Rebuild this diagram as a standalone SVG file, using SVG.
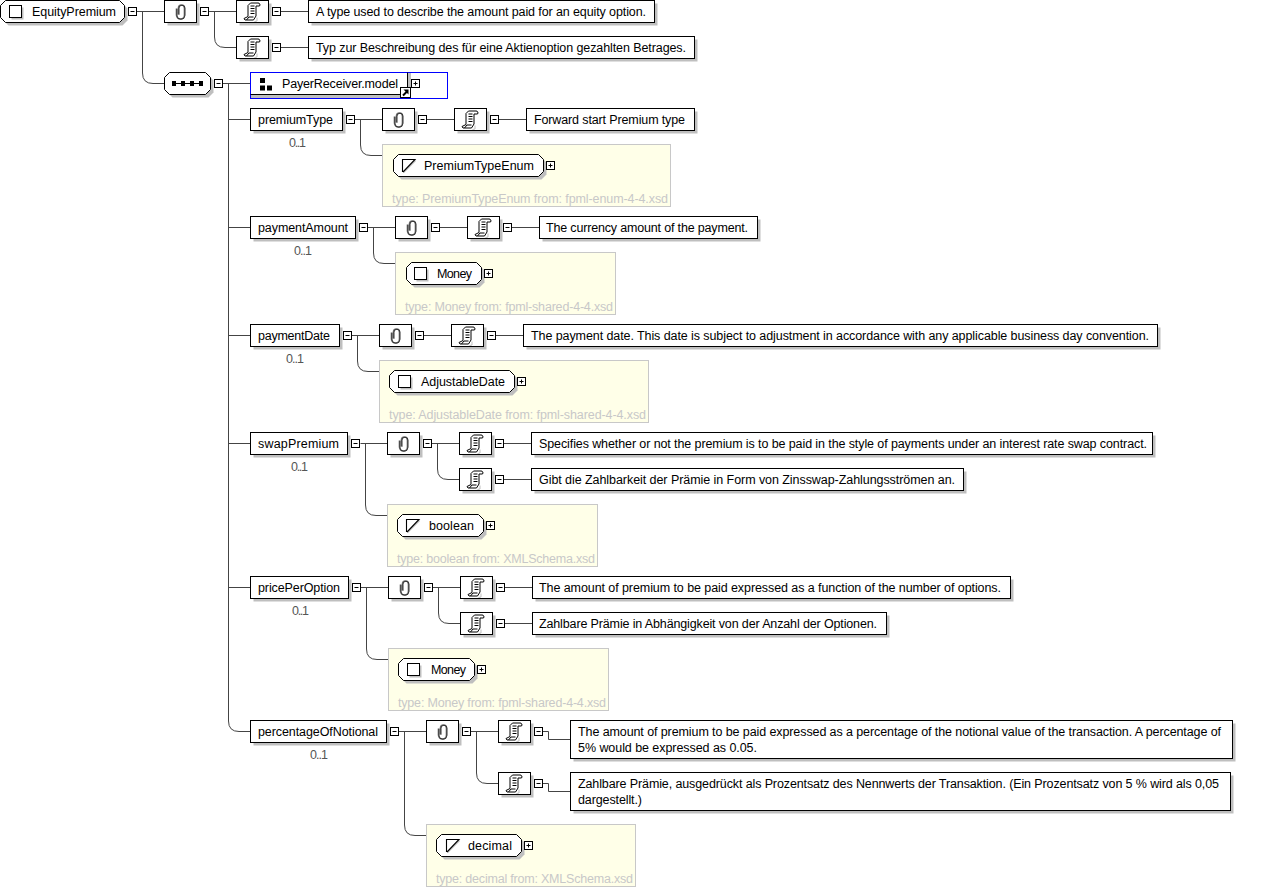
<svg xmlns="http://www.w3.org/2000/svg" width="1273" height="888" viewBox="0 0 1273 888">
<style>
text{font-family:"Liberation Sans",Arial,sans-serif;font-size:12.5px;fill:#000}
.occ{fill:#555}
.ty{fill:#c8c8c8}
.b{fill:#fff;stroke:#000;stroke-width:1}
.sh{fill:#bfbfbf;stroke:none}
.ct{fill:#ffffe8;stroke:#c8c8c8;stroke-width:1}
.ln{fill:none;stroke:#444;stroke-width:1}
</style>
<defs>
<g id="minus"><rect x="-4" y="-4" width="8" height="8" fill="#fff" stroke="#000"/><path d="M-2 0H2" stroke="#000"/></g>
<g id="plus"><rect x="-4" y="-4" width="8" height="8" fill="#fff" stroke="#000"/><path d="M-2 0H2M0-2V2" stroke="#000"/></g>
<g id="clip"><rect class="sh" x="3" y="-8" width="32" height="22"/><rect class="b" x="0" y="-11" width="32" height="22"/>
<path d="M12-3V3.500a4 4 0 0 0 8 0V-3.500a3 3 0 0 0-6 0V3" fill="none" stroke="#666" stroke-width="1.600"/>
<path d="M12-3V3.500a4 4 0 0 0 8 0V-3.500a3 3 0 0 0-6 0V3" fill="none" stroke="#111" stroke-width=".6" transform="translate(.5 .3)"/></g>
<g id="doc"><rect class="sh" x="3" y="-8" width="32" height="22"/><rect class="b" x="0" y="-11" width="32" height="22"/>
<path d="M14-8.500H21.500a1.800 1.800 0 0 1 1.500 3H19.500V4.500L17 8.500H8.500L7.500 7 11.500 5V-6Z" fill="#fff" stroke="#000"/>
<path d="M10 8.500L12.500 5.500H17M14-5.500H18M14-3H18M14-.5H18M14 2H18" fill="none" stroke="#000"/><path d="M20.500 6V9.500L18 10" fill="none" stroke="#bfbfbf"/></g>
<g id="ty"><path d="M2 14L14 2" fill="none" stroke="#bfbfbf" stroke-width="1.500"/><path d="M1 13.500V1H13.500L1.500 13.500" fill="#fff" stroke="#000" stroke-width="1.100"/></g>
<g id="cx"><rect class="sh" x="2" y="2" width="12" height="12"/><rect x="0" y="0" width="12" height="12" fill="#fff" stroke="#000"/></g>
</defs>
<g id="connectors" class="ln">
<path d="M136.500 11.500H164.500M142.500 11.500V73Q142.500 83.500 153 83.500H164.500"/>
<path d="M208.500 11.500H236.500M214.500 11.500V37Q214.500 47.500 225 47.500H236.500"/>
<path d="M280.500 11.500H308.500M280.500 47.500H308.500"/>
<path d="M222.500 83.500H250.500M228.500 83.500V721Q228.500 731.500 239 731.500H250.500M228.500 119.500H250.500M228.500 227.500H250.500M228.500 335.500H250.500M228.500 443.500H250.500M228.500 587.500H250.500"/>
<path d="M354.500 119.500H382.500M360.500 119.500V145Q360.500 155.500 371 155.500H382.500M426.500 119.500H454.500M498.500 119.500H526.500"/>
<path d="M367.500 227.500H395.500M373.500 227.500V253Q373.500 263.500 384 263.500H395.500M439.500 227.500H467.500M511.500 227.500H539.500"/>
<path d="M351.500 335.500H379.500M357.500 335.500V361Q357.500 371.500 368 371.500H379.500M423.500 335.500H451.500M495.500 335.500H523.500"/>
<path d="M360.500 443.500H387.500M365.500 443.500V505Q365.500 515.500 376 515.500H387.500M431.500 443.500H459.500M437.500 443.500V469Q437.500 479.500 448 479.500H459.500M503.500 443.500H531.500M503.500 479.500H531.500"/>
<path d="M360.500 587.500H388.500M366.500 587.500V649Q366.500 659.500 377 659.500H388.500M432.500 587.500H460.500M438.500 587.500V613Q438.500 623.500 449 623.500H460.500M504.500 587.500H532.500M504.500 623.500H532.500"/>
<path d="M398.500 731.500H426.500M404.500 731.500V825Q404.500 835.500 415 835.500H426.500M470.500 731.500H498.500M476.500 731.500V773Q476.500 783.500 487 783.500H498.500M542.500 731.500H548.500V739.500H570.500M542.500 783.500H548.500V791.500H570.500"/>
</g>
<g id="EquityPremium">
<path class="sh" transform="translate(3 3)" d="M5.500 .5H119.500L124.500 5.500V17.500L119.500 22.500H5.500L.5 17.500V5.500Z"/>
<path class="b" d="M5.500 .5H119.500L124.500 5.500V17.500L119.500 22.500H5.500L.5 17.500V5.500Z"/>
<use href="#cx" x="9.500" y="5.500"/>
<text x="32" y="16" textLength="84">EquityPremium</text>
<use href="#minus" x="132.500" y="11.500"/>
</g>
<g id="annotation-root">
<use href="#clip" x="164.500" y="11.500"/><use href="#minus" x="204.500" y="11.500"/>
<use href="#doc" x="236.500" y="11.500"/><use href="#minus" x="276.500" y="11.500"/>
<rect class="sh" x="311.500" y="3.500" width="346" height="22"/><rect class="b" x="308.500" y=".5" width="346" height="22"/>
<text x="316" y="16" textLength="330">A type used to describe the amount paid for an equity option.</text>
<use href="#doc" x="236.500" y="47.500"/><use href="#minus" x="276.500" y="47.500"/>
<rect class="sh" x="311.500" y="39.500" width="386" height="22"/><rect class="b" x="308.500" y="36.500" width="386" height="22"/>
<text x="316" y="52" textLength="370">Typ zur Beschreibung des für eine Aktienoption gezahlten Betrages.</text>
</g>
<g id="sequence">
<path class="sh" transform="translate(3 3)" d="M169.500 72.500H205.500L210.500 77.500V89.500L205.500 94.500H169.500L164.500 89.500V77.500Z"/>
<path class="b" d="M169.500 72.500H205.500L210.500 77.500V89.500L205.500 94.500H169.500L164.500 89.500V77.500Z"/>
<path d="M172 83.500H203" stroke="#000"/>
<path d="M172 81h4v5h-4zM181 81h4v5h-4zM190 81h4v5h-4zM199 81h4v5h-4z"/>
<use href="#minus" x="218.500" y="83.500"/>
</g>
<g id="PayerReceiver.model">
<rect x="250.500" y="72.500" width="197" height="26" fill="#fff" stroke="#00f"/>
<rect class="sh" x="251" y="95" width="159" height="3"/><rect class="sh" x="408" y="73" width="3" height="24"/>
<path d="M250.500 94.500H407.500V72.500" fill="none" stroke="#000"/>
<path d="M260 78h5v5h-5zM260 85.500h5v5h-5zM267 85.500h5v5h-5z"/>
<text x="282" y="88" textLength="116">PayerReceiver.model</text>
<rect x="400.500" y="87.500" width="10" height="10" fill="#fff" stroke="#000"/>
<path d="M403 95.500L407 91.500" stroke="#000" stroke-width="2"/><path d="M403.500 89.500H408.500V94.500Z"/>
<use href="#plus" x="415.500" y="83.500"/>
</g>
<g id="premiumType">
<rect class="sh" x="253.500" y="111.500" width="92" height="22"/><rect class="b" x="250.500" y="108.500" width="92" height="22"/>
<text x="258" y="124" textLength="75">premiumType</text><text class="occ" x="289" y="147" textLength="17">0..1</text>
<use href="#minus" x="350.500" y="119.500"/><use href="#clip" x="382.500" y="119.500"/><use href="#minus" x="422.500" y="119.500"/><use href="#doc" x="454.500" y="119.500"/><use href="#minus" x="494.500" y="119.500"/>
<rect class="sh" x="529.500" y="111.500" width="168" height="22"/><rect class="b" x="526.500" y="108.500" width="168" height="22"/>
<text x="534" y="124" textLength="151">Forward start Premium type</text>
<rect class="ct" x="382.500" y="144.500" width="288" height="62"/>
<path class="sh" transform="translate(3 3)" d="M398.500 154.500H538.500L543.500 159.500V171.500L538.500 176.500H398.500L393.500 171.500V159.500Z"/>
<path class="b" d="M398.500 154.500H538.500L543.500 159.500V171.500L538.500 176.500H398.500L393.500 171.500V159.500Z"/>
<use href="#ty" x="401.500" y="158.500"/>
<text x="424" y="170" textLength="110">PremiumTypeEnum</text>
<use href="#plus" x="550.500" y="165.500"/>
<text class="ty" x="392" y="203" textLength="276">type: PremiumTypeEnum from: fpml-enum-4-4.xsd</text>
</g>
<g id="paymentAmount">
<rect class="sh" x="253.500" y="219.500" width="105" height="22"/><rect class="b" x="250.500" y="216.500" width="105" height="22"/>
<text x="258" y="232" textLength="90">paymentAmount</text><text class="occ" x="294" y="255" textLength="18">0..1</text>
<use href="#minus" x="363.500" y="227.500"/><use href="#clip" x="395.500" y="227.500"/><use href="#minus" x="435.500" y="227.500"/><use href="#doc" x="467.500" y="227.500"/><use href="#minus" x="507.500" y="227.500"/>
<rect class="sh" x="542.500" y="219.500" width="218" height="22"/><rect class="b" x="539.500" y="216.500" width="218" height="22"/>
<text x="546" y="232" textLength="202">The currency amount of the payment.</text>
<rect class="ct" x="395.500" y="252.500" width="220" height="62"/>
<path class="sh" transform="translate(3 3)" d="M411.500 262.500H476.500L481.500 267.500V279.500L476.500 284.500H411.500L406.500 279.500V267.500Z"/>
<path class="b" d="M411.500 262.500H476.500L481.500 267.500V279.500L476.500 284.500H411.500L406.500 279.500V267.500Z"/>
<use href="#cx" x="414.500" y="267.500"/>
<text x="437" y="278" textLength="35">Money</text>
<use href="#plus" x="488.500" y="273.500"/>
<text class="ty" x="405" y="311" textLength="208">type: Money from: fpml-shared-4-4.xsd</text>
</g>
<g id="paymentDate">
<rect class="sh" x="253.500" y="327.500" width="89" height="22"/><rect class="b" x="250.500" y="324.500" width="89" height="22"/>
<text x="258" y="340" textLength="72">paymentDate</text><text class="occ" x="286" y="363" textLength="18">0..1</text>
<use href="#minus" x="347.500" y="335.500"/><use href="#clip" x="379.500" y="335.500"/><use href="#minus" x="419.500" y="335.500"/><use href="#doc" x="451.500" y="335.500"/><use href="#minus" x="491.500" y="335.500"/>
<rect class="sh" x="526.500" y="327.500" width="634" height="22"/><rect class="b" x="523.500" y="324.500" width="634" height="22"/>
<text x="531" y="340" textLength="618">The payment date. This date is subject to adjustment in accordance with any applicable business day convention.</text>
<rect class="ct" x="379.500" y="360.500" width="269" height="62"/>
<path class="sh" transform="translate(3 3)" d="M394.500 370.500H509.500L514.500 375.500V387.500L509.500 392.500H394.500L389.500 387.500V375.500Z"/>
<path class="b" d="M394.500 370.500H509.500L514.500 375.500V387.500L509.500 392.500H394.500L389.500 387.500V375.500Z"/>
<use href="#cx" x="398.500" y="375.500"/>
<text x="421" y="386" textLength="84">AdjustableDate</text>
<use href="#plus" x="521.500" y="381.500"/>
<text class="ty" x="389" y="419" textLength="257">type: AdjustableDate from: fpml-shared-4-4.xsd</text>
</g>
<g id="swapPremium">
<rect class="sh" x="253.500" y="435.500" width="97" height="22"/><rect class="b" x="250.500" y="432.500" width="97" height="22"/>
<text x="258" y="448" textLength="81">swapPremium</text><text class="occ" x="291" y="471" textLength="17">0..1</text>
<use href="#minus" x="355.500" y="443.500"/><use href="#clip" x="387.500" y="443.500"/><use href="#minus" x="427.500" y="443.500"/><use href="#doc" x="459.500" y="443.500"/><use href="#minus" x="499.500" y="443.500"/>
<rect class="sh" x="534.500" y="435.500" width="621" height="22"/><rect class="b" x="531.500" y="432.500" width="621" height="22"/>
<text x="539" y="448" textLength="608">Specifies whether or not the premium is to be paid in the style of payments under an interest rate swap contract.</text>
<use href="#doc" x="459.500" y="479.500"/><use href="#minus" x="499.500" y="479.500"/>
<rect class="sh" x="534.500" y="471.500" width="432" height="22"/><rect class="b" x="531.500" y="468.500" width="432" height="22"/>
<text x="539" y="484" textLength="416">Gibt die Zahlbarkeit der Prämie in Form von Zinsswap-Zahlungsströmen an.</text>
<rect class="ct" x="387.500" y="504.500" width="210" height="62"/>
<path class="sh" transform="translate(3 3)" d="M402.500 514.500H478.500L483.500 519.500V531.500L478.500 536.500H402.500L397.500 531.500V519.500Z"/>
<path class="b" d="M402.500 514.500H478.500L483.500 519.500V531.500L478.500 536.500H402.500L397.500 531.500V519.500Z"/>
<use href="#ty" x="405.500" y="518.500"/>
<text x="429" y="530" textLength="45">boolean</text>
<use href="#plus" x="490.500" y="525.500"/>
<text class="ty" x="397" y="563" textLength="198">type: boolean from: XMLSchema.xsd</text>
</g>
<g id="pricePerOption">
<rect class="sh" x="253.500" y="579.500" width="98" height="22"/><rect class="b" x="250.500" y="576.500" width="98" height="22"/>
<text x="258" y="592" textLength="82">pricePerOption</text><text class="occ" x="292" y="615" textLength="17">0..1</text>
<use href="#minus" x="356.500" y="587.500"/><use href="#clip" x="388.500" y="587.500"/><use href="#minus" x="428.500" y="587.500"/><use href="#doc" x="460.500" y="587.500"/><use href="#minus" x="500.500" y="587.500"/>
<rect class="sh" x="535.500" y="579.500" width="478" height="22"/><rect class="b" x="532.500" y="576.500" width="478" height="22"/>
<text x="539" y="592" textLength="462">The amount of premium to be paid expressed as a function of the number of options.</text>
<use href="#doc" x="460.500" y="623.500"/><use href="#minus" x="500.500" y="623.500"/>
<rect class="sh" x="535.500" y="615.500" width="354" height="22"/><rect class="b" x="532.500" y="612.500" width="354" height="22"/>
<text x="539" y="628" textLength="338">Zahlbare Prämie in Abhängigkeit von der Anzahl der Optionen.</text>
<rect class="ct" x="388.500" y="648.500" width="220" height="62"/>
<path class="sh" transform="translate(3 3)" d="M403.500 658.500H469.500L474.500 663.500V675.500L469.500 680.500H403.500L398.500 675.500V663.500Z"/>
<path class="b" d="M403.500 658.500H469.500L474.500 663.500V675.500L469.500 680.500H403.500L398.500 675.500V663.500Z"/>
<use href="#cx" x="407.500" y="663.500"/>
<text x="431" y="674" textLength="35">Money</text>
<use href="#plus" x="481.500" y="669.500"/>
<text class="ty" x="398" y="707" textLength="208">type: Money from: fpml-shared-4-4.xsd</text>
</g>
<g id="percentageOfNotional">
<rect class="sh" x="253.500" y="723.500" width="136" height="22"/><rect class="b" x="250.500" y="720.500" width="136" height="22"/>
<text x="258" y="736" textLength="120">percentageOfNotional</text><text class="occ" x="310" y="759" textLength="18">0..1</text>
<use href="#minus" x="394.500" y="731.500"/><use href="#clip" x="426.500" y="731.500"/><use href="#minus" x="466.500" y="731.500"/><use href="#doc" x="498.500" y="731.500"/><use href="#minus" x="538.500" y="731.500"/>
<rect class="sh" x="573.500" y="723.500" width="662" height="38"/><rect class="b" x="570.500" y="720.500" width="662" height="38"/>
<text x="578" y="736" textLength="643">The amount of premium to be paid expressed as a percentage of the notional value of the transaction. A percentage of</text>
<text x="578" y="752" textLength="179">5% would be expressed as 0.05.</text>
<use href="#doc" x="498.500" y="783.500"/><use href="#minus" x="538.500" y="783.500"/>
<rect class="sh" x="573.500" y="775.500" width="660" height="38"/><rect class="b" x="570.500" y="772.500" width="660" height="38"/>
<text x="578" y="788" textLength="641">Zahlbare Prämie, ausgedrückt als Prozentsatz des Nennwerts der Transaktion. (Ein Prozentsatz von 5 % wird als 0,05</text>
<text x="578" y="804" textLength="64">dargestellt.)</text>
<rect class="ct" x="426.500" y="824.500" width="209" height="62"/>
<path class="sh" transform="translate(3 3)" d="M441.500 834.500H516.500L521.500 839.500V851.500L516.500 856.500H441.500L436.500 851.500V839.500Z"/>
<path class="b" d="M441.500 834.500H516.500L521.500 839.500V851.500L516.500 856.500H441.500L436.500 851.500V839.500Z"/>
<use href="#ty" x="445.500" y="838.500"/>
<text x="468" y="850" textLength="44">decimal</text>
<use href="#plus" x="528.500" y="845.500"/>
<text class="ty" x="436" y="883" textLength="197">type: decimal from: XMLSchema.xsd</text>
</g>
</svg>
